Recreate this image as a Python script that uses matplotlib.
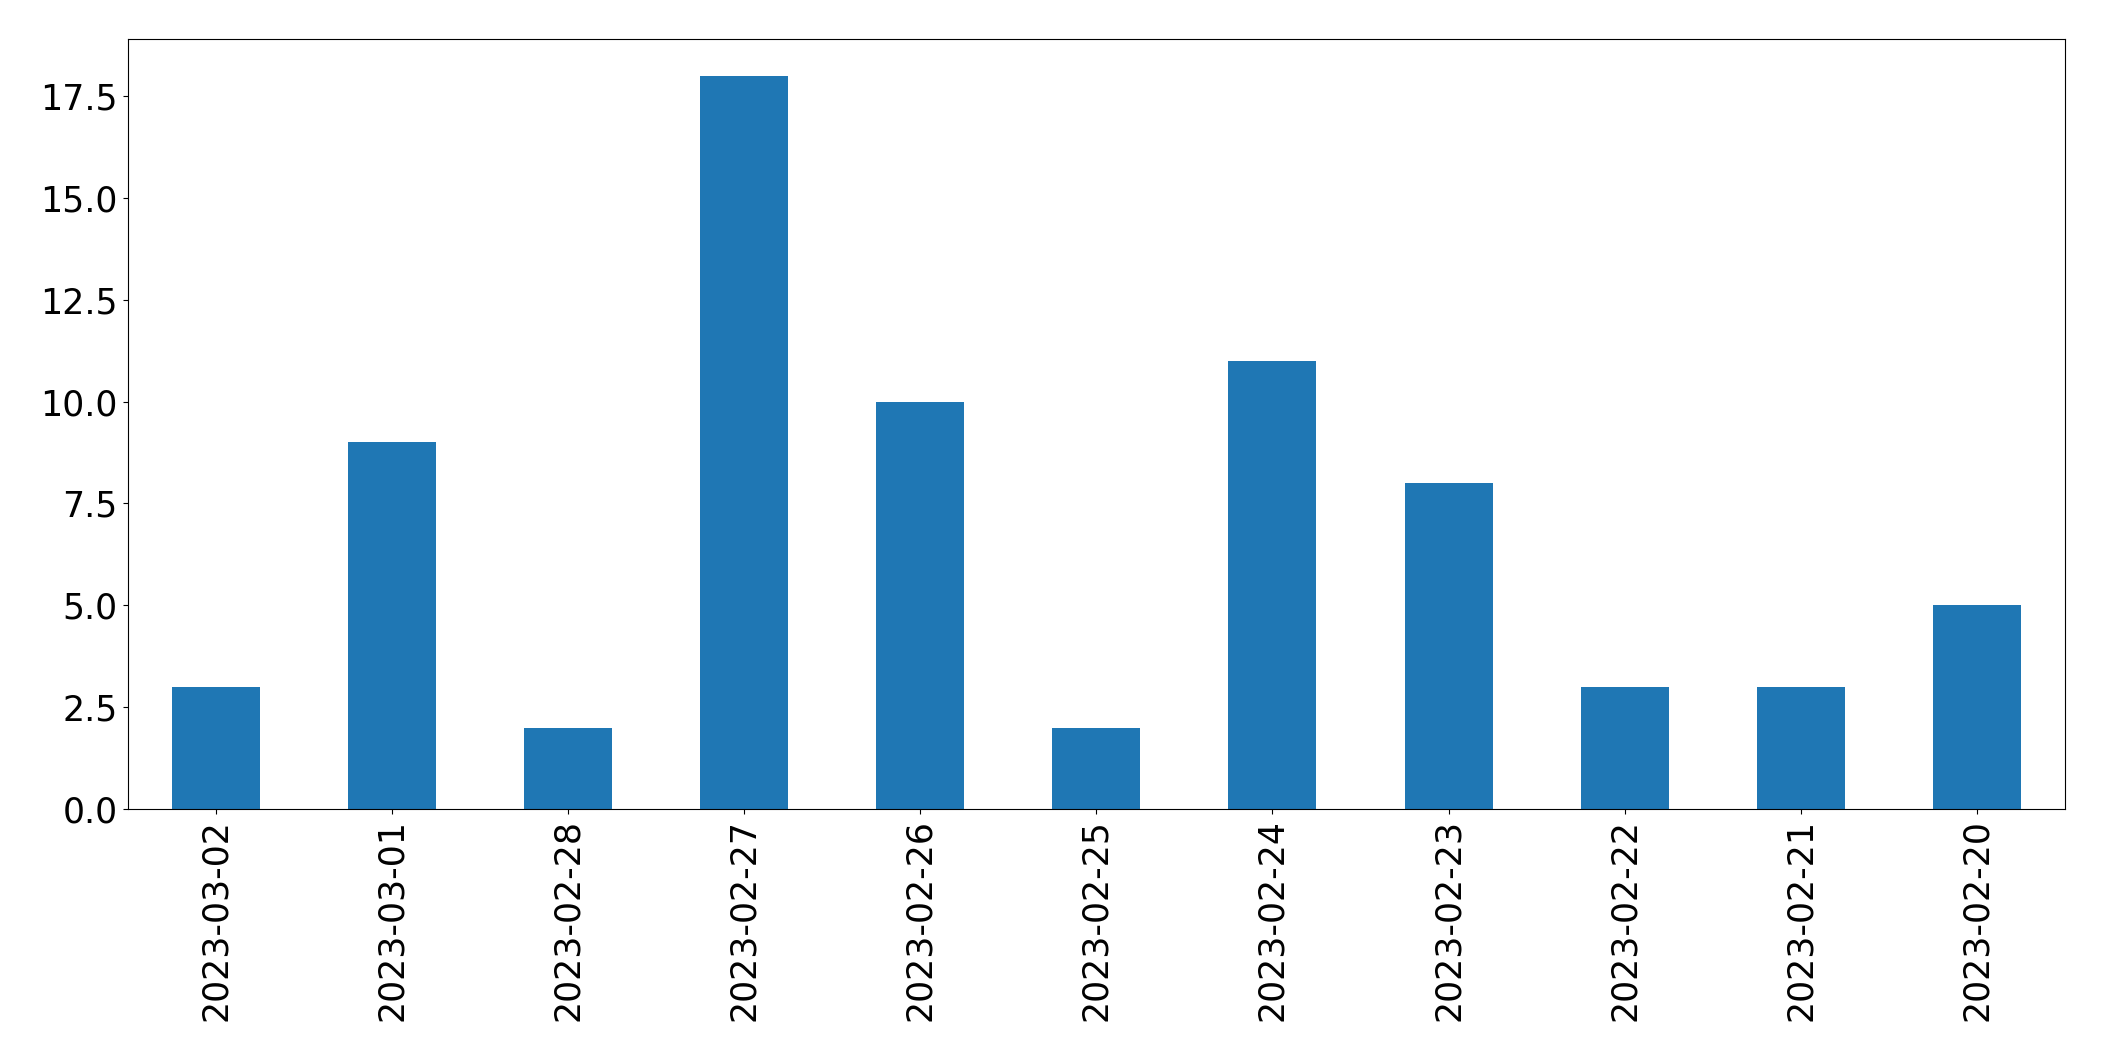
import pandas as pd
import matplotlib
matplotlib.use("Agg")
import matplotlib.pyplot as plt

# daily counts, newest first
dates = ["2023-03-02", "2023-03-01", "2023-02-28", "2023-02-27", "2023-02-26",
         "2023-02-25", "2023-02-24", "2023-02-23", "2023-02-22", "2023-02-21",
         "2023-02-20"]
counts = [3, 9, 2, 18, 10, 2, 11, 8, 3, 3, 5]

s = pd.Series(counts, index=dates)

fig = plt.figure(figsize=(21.04, 10.61), dpi=100)
ax = fig.add_axes([0.0606, 0.2375, 0.9209, 0.7257])
s.plot.bar(ax=ax, fontsize=25)

fig.savefig("out.png", dpi=100)
